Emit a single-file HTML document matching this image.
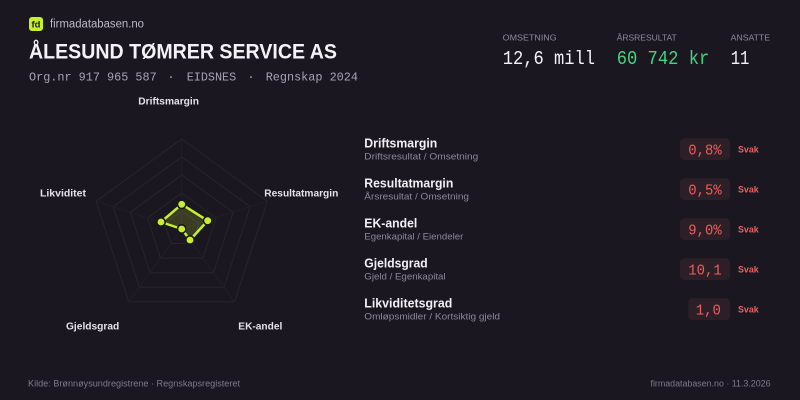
<!DOCTYPE html>
<html><head><meta charset="utf-8"><style>
html,body{margin:0;padding:0;background:#1b1721;}
svg{display:block;}
.sans{font-family:"Liberation Sans",sans-serif;}
.mono{font-family:"Liberation Mono",monospace;}
</style></head><body>
<svg width="800" height="400" viewBox="0 0 800 400" xmlns="http://www.w3.org/2000/svg">
<rect width="800" height="400" fill="#1b1721"/>
<!-- header -->
<rect x="29" y="17" width="14" height="14" rx="3" fill="#c6f02a"/>
<text x="36" y="27.5" class="sans" font-size="9.5" font-weight="bold" fill="#1b1721" text-anchor="middle">fd</text>
<text x="50" y="27.5" class="sans" font-size="11.5" fill="#bcb9c5" textLength="94" lengthAdjust="spacingAndGlyphs">firmadatabasen.no</text>
<text x="29" y="58.3" class="sans" font-size="21" font-weight="bold" fill="#f4f2f7" textLength="308" lengthAdjust="spacingAndGlyphs">ÅLESUND TØMRER SERVICE AS</text>
<g class="mono" font-size="12" fill="#a7a4b1">
<text x="29" y="80.7" textLength="127.7" lengthAdjust="spacingAndGlyphs">Org.nr 917 965 587</text>
<text x="171" y="80.7" text-anchor="middle">·</text>
<text x="186.7" y="80.7" textLength="49.5" lengthAdjust="spacingAndGlyphs">EIDSNES</text>
<text x="251" y="80.7" text-anchor="middle">·</text>
<text x="265.7" y="80.7" textLength="92.3" lengthAdjust="spacingAndGlyphs">Regnskap 2024</text>
</g>
<!-- stats -->
<g class="sans" font-size="8.5" fill="#8f8c99">
<text x="502.7" y="40.7" textLength="54" lengthAdjust="spacingAndGlyphs">OMSETNING</text>
<text x="616.7" y="40.7" textLength="60" lengthAdjust="spacingAndGlyphs">ÅRSRESULTAT</text>
<text x="730.7" y="40.7" textLength="39.3" lengthAdjust="spacingAndGlyphs">ANSATTE</text>
</g>
<g class="mono" font-size="19">
<text x="502.7" y="64" fill="#f4f2f7" textLength="92.3" lengthAdjust="spacingAndGlyphs">12,6 mill</text>
<text x="616.7" y="64" fill="#45d37e" textLength="92.6" lengthAdjust="spacingAndGlyphs">60 742 kr</text>
<text x="730.7" y="64" fill="#f4f2f7" textLength="18.7" lengthAdjust="spacingAndGlyphs">11</text>
</g>
<!-- radar -->
<g transform="translate(181.7,229)" fill="none" stroke="#28242e" stroke-width="1">
<polygon points="0,-90 85.6,-27.81 52.9,72.81 -52.9,72.81 -85.6,-27.81"/>
<polygon points="0,-72 68.48,-22.25 42.32,58.25 -42.32,58.25 -68.48,-22.25"/>
<polygon points="0,-54 51.36,-16.69 31.74,43.69 -31.74,43.69 -51.36,-16.69"/>
<polygon points="0,-36 34.24,-11.12 21.16,29.12 -21.16,29.12 -34.24,-11.12"/>
<polygon points="0,-18 17.12,-5.56 10.58,14.56 -10.58,14.56 -17.12,-5.56"/>
</g>
<g transform="translate(181.7,229)" stroke="#221e28" stroke-width="1">
<line x1="0" y1="0" x2="0" y2="-90"/>
<line x1="0" y1="0" x2="85.6" y2="-27.81"/>
<line x1="0" y1="0" x2="52.9" y2="72.81"/>
<line x1="0" y1="0" x2="-52.9" y2="72.81"/>
<line x1="0" y1="0" x2="-85.6" y2="-27.81"/>
</g>
<g transform="translate(181.7,229)">
<polygon points="0,-24.7 26,-8.3 8.3,11 0,0 -20.7,-7" fill="#c6f02a" fill-opacity="0.18" stroke="#c6f02a" stroke-width="2.5" stroke-linejoin="round"/>
<g fill="#c6f02a" stroke="#1b1721" stroke-width="1.6">
<circle cx="0" cy="-24.7" r="4.2"/>
<circle cx="26" cy="-8.3" r="4.2"/>
<circle cx="8.3" cy="11" r="4.2"/>
<circle cx="0" cy="0" r="4.2"/>
<circle cx="-20.7" cy="-7" r="4.2"/>
</g>
</g>
<g class="sans" font-size="10" font-weight="bold" fill="#e4e1ea">
<text x="138.3" y="104.7" textLength="60.7" lengthAdjust="spacingAndGlyphs">Driftsmargin</text>
<text x="264.3" y="196.7" textLength="74" lengthAdjust="spacingAndGlyphs">Resultatmargin</text>
<text x="40" y="196.7" textLength="46" lengthAdjust="spacingAndGlyphs">Likviditet</text>
<text x="66" y="329.5" textLength="53.3" lengthAdjust="spacingAndGlyphs">Gjeldsgrad</text>
<text x="238.3" y="329.5" textLength="44" lengthAdjust="spacingAndGlyphs">EK-andel</text>
</g>
<!-- rows -->
<g class="sans">
<text x="364.3" y="147.5" font-size="12.5" font-weight="bold" fill="#f2f0f5" textLength="73" lengthAdjust="spacingAndGlyphs">Driftsmargin</text>
<text x="364.3" y="159.5" font-size="9.3" fill="#8c8995" textLength="114" lengthAdjust="spacingAndGlyphs">Driftsresultat / Omsetning</text>
<text x="364.3" y="187.5" font-size="12.5" font-weight="bold" fill="#f2f0f5" textLength="89" lengthAdjust="spacingAndGlyphs">Resultatmargin</text>
<text x="364.3" y="199.5" font-size="9.3" fill="#8c8995" textLength="104.7" lengthAdjust="spacingAndGlyphs">Årsresultat / Omsetning</text>
<text x="364.3" y="227.5" font-size="12.5" font-weight="bold" fill="#f2f0f5" textLength="53" lengthAdjust="spacingAndGlyphs">EK-andel</text>
<text x="364.3" y="239.5" font-size="9.3" fill="#8c8995" textLength="99" lengthAdjust="spacingAndGlyphs">Egenkapital / Eiendeler</text>
<text x="364.3" y="267.5" font-size="12.5" font-weight="bold" fill="#f2f0f5" textLength="63.3" lengthAdjust="spacingAndGlyphs">Gjeldsgrad</text>
<text x="364.3" y="279.5" font-size="9.3" fill="#8c8995" textLength="81.3" lengthAdjust="spacingAndGlyphs">Gjeld / Egenkapital</text>
<text x="364.3" y="307.5" font-size="12.5" font-weight="bold" fill="#f2f0f5" textLength="88" lengthAdjust="spacingAndGlyphs">Likviditetsgrad</text>
<text x="364.3" y="319.5" font-size="9.3" fill="#8c8995" textLength="135.7" lengthAdjust="spacingAndGlyphs">Omløpsmidler / Kortsiktig gjeld</text>
</g>
<g fill="#2c1f27">
<rect x="680" y="138.3" width="50" height="21.7" rx="4"/>
<rect x="680" y="178.3" width="50" height="21.7" rx="4"/>
<rect x="680" y="218.3" width="50" height="21.7" rx="4"/>
<rect x="680" y="258.3" width="50" height="21.7" rx="4"/>
<rect x="688.3" y="298.3" width="41.7" height="21.7" rx="4"/>
</g>
<g class="mono" font-size="14.5" fill="#e8605f">
<text x="688.3" y="154.3" textLength="33.4" lengthAdjust="spacingAndGlyphs">0,8%</text>
<text x="688.3" y="194.3" textLength="33.4" lengthAdjust="spacingAndGlyphs">0,5%</text>
<text x="688.3" y="234.3" textLength="33.4" lengthAdjust="spacingAndGlyphs">9,0%</text>
<text x="688.3" y="274.3" textLength="33.4" lengthAdjust="spacingAndGlyphs">10,1</text>
<text x="695.7" y="314.3" textLength="25.3" lengthAdjust="spacingAndGlyphs">1,0</text>
</g>
<g class="sans" font-size="9.5" font-weight="bold" fill="#e8625f">
<text x="738" y="152.3" textLength="20.7" lengthAdjust="spacingAndGlyphs">Svak</text>
<text x="738" y="192.3" textLength="20.7" lengthAdjust="spacingAndGlyphs">Svak</text>
<text x="738" y="232.3" textLength="20.7" lengthAdjust="spacingAndGlyphs">Svak</text>
<text x="738" y="272.3" textLength="20.7" lengthAdjust="spacingAndGlyphs">Svak</text>
<text x="738" y="312.3" textLength="20.7" lengthAdjust="spacingAndGlyphs">Svak</text>
</g>
<!-- footer -->
<g class="sans" font-size="9" fill="#7e7b88">
<text x="28" y="386.5" textLength="212" lengthAdjust="spacingAndGlyphs">Kilde: Brønnøysundregistrene · Regnskapsregisteret</text>
<text x="650.5" y="386.5" textLength="120" lengthAdjust="spacingAndGlyphs">firmadatabasen.no · 11.3.2026</text>
</g>
</svg>
</body></html>
